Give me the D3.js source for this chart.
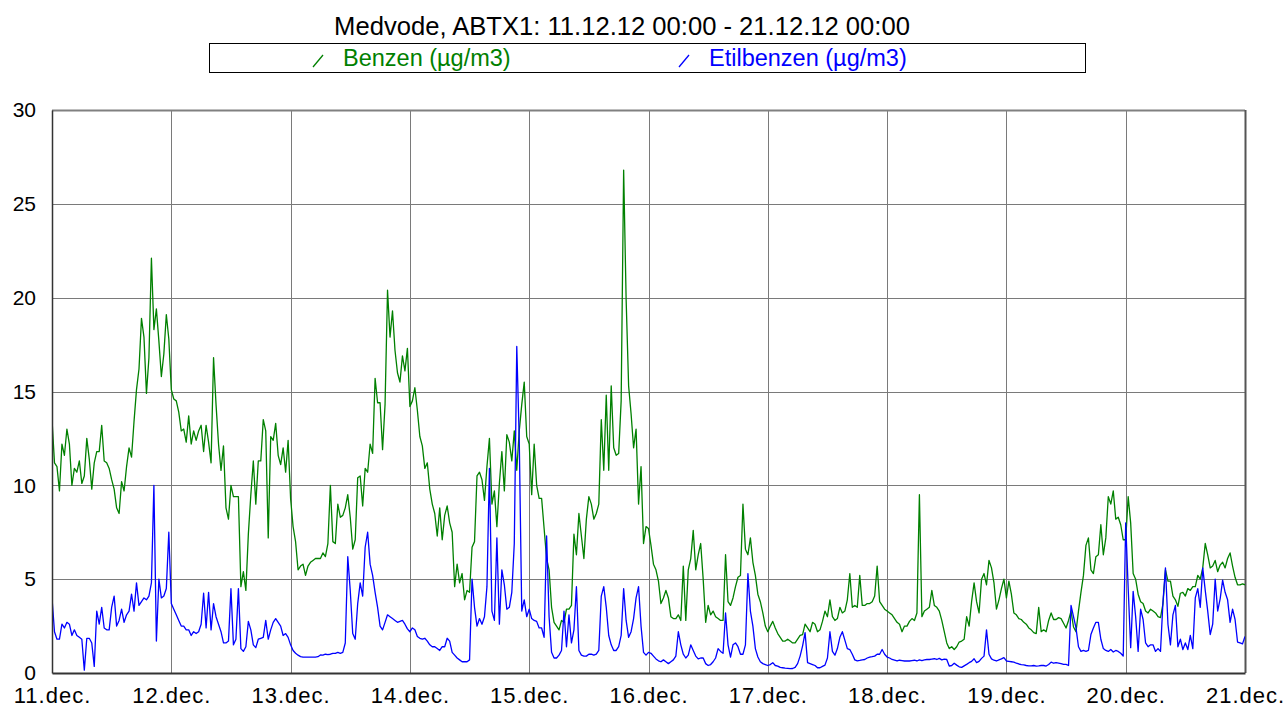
<!DOCTYPE html>
<html lang="en">
<head>
<meta charset="utf-8">
<title>Medvode, ABTX1</title>
<script src="https://cdn.jsdelivr.net/npm/d3@7"></script>
<style>
  body { margin: 0; background: #fff; }
  text { font-family: "Liberation Sans", Arial, sans-serif; }
</style>
</head>
<body>
<script>
// chart texts
var title = "Medvode, ABTX1: 11.12.12 00:00 - 21.12.12 00:00";
var seriesNames = ["Benzen (µg/m3)", "Etilbenzen (µg/m3)"];
var seriesColors = ["#008000", "#0000ff"];

// half-hourly readings starting 11.12.2012 00:00
var startTime = Date.UTC(2012, 11, 11, 0, 0);
var stepMinutes = 30;

var benzen = [
  13.5,11.2,11.0,9.7,12.2,11.6,13.0,12.2,10.0,10.9,10.7,11.3,10.1,10.5,12.5,11.4,9.8,11.2,11.8,11.8,13.2,11.3,11.2,10.9,10.3,9.8,8.8,8.5,10.2,9.7,11.0,12.0,11.5,13.4,15.1,16.2,18.9,17.9,14.9,16.8,22.1,18.3,19.4,17.7,15.8,17.0,19.1,17.8,
  15.1,14.6,14.5,13.9,12.9,13.0,12.3,13.7,12.2,12.9,12.4,12.9,13.2,11.8,13.2,12.3,11.2,16.8,14.3,12.2,10.8,12.1,8.8,8.2,10.0,9.4,9.4,9.4,4.6,5.4,4.4,7.4,9.5,11.3,9.0,11.3,11.3,13.5,12.9,7.2,12.6,12.4,13.3,11.6,11.1,12.0,10.7,12.4,
  9.3,7.8,7.0,5.5,5.7,5.8,5.2,5.7,5.9,6.0,6.1,6.1,6.1,6.4,6.2,6.9,10.0,7.0,6.9,9.0,8.3,8.4,8.8,9.5,8.3,6.6,7.1,10.4,10.5,8.9,10.9,10.7,12.2,11.7,15.7,14.4,14.4,11.9,14.3,20.4,17.9,19.3,17.2,16.0,15.5,16.9,16.1,17.3,
  14.2,14.5,15.2,14.0,12.6,12.1,10.9,11.2,9.8,9.0,8.5,7.3,8.8,7.1,8.4,8.9,8.0,7.5,4.6,5.8,4.8,5.3,3.9,4.4,4.3,6.7,7.0,10.5,10.7,10.3,9.2,11.0,12.5,9.0,9.7,7.8,10.1,11.8,9.7,12.7,12.3,11.3,12.9,10.8,12.9,14.3,15.5,12.6,
  12.2,9.5,12.2,10.0,9.3,9.3,7.7,6.1,5.5,3.5,2.7,2.5,2.3,2.8,2.7,3.4,3.4,3.6,7.4,6.3,8.5,7.3,6.1,8.2,9.4,9.0,8.2,8.5,9.0,13.5,10.8,14.8,10.8,15.3,12.0,11.6,11.7,14.5,26.8,19.9,15.3,13.8,12.0,13.0,9.0,11.0,6.9,7.8,
  7.7,6.8,5.8,5.5,4.9,3.7,4.0,4.4,4.0,3.0,2.9,2.9,3.1,2.8,5.7,2.8,5.5,6.1,7.6,5.5,6.3,6.9,5.0,2.7,3.6,3.1,3.3,3.0,2.9,2.8,2.8,6.3,3.8,3.6,4.0,4.6,5.1,5.2,9.0,6.6,6.3,7.2,5.9,5.2,4.2,3.8,3.2,2.5,
  2.2,2.5,2.75,2.4,2.1,1.9,1.7,1.7,1.8,1.7,1.6,1.6,1.8,2.0,2.05,2.6,2.4,2.2,2.7,2.6,2.2,2.3,2.75,3.3,3.0,3.9,3.0,2.8,2.9,3.5,3.2,3.3,3.9,5.3,3.5,3.6,3.5,5.2,3.6,3.6,3.7,3.7,3.8,4.1,5.7,3.8,3.6,3.4,
  3.3,3.2,3.1,2.9,2.7,2.6,2.2,2.5,2.5,2.75,2.9,2.8,3.2,9.5,3.0,3.3,3.4,3.5,4.4,3.6,3.5,3.3,2.8,2.2,1.6,1.3,1.4,1.25,1.4,1.65,1.7,1.8,3.0,2.5,3.8,4.8,3.8,3.2,5.0,5.3,4.7,6.0,5.6,4.8,3.4,3.9,4.5,5.0,
  4.0,4.9,4.2,3.2,3.1,2.9,2.85,2.7,2.6,2.4,2.3,2.15,2.1,3.5,2.2,2.3,2.2,2.8,3.2,2.85,2.85,2.95,2.9,2.65,2.4,2.8,3.3,2.45,2.2,3.3,4.3,5.2,6.8,7.2,5.5,5.3,6.2,6.3,7.9,6.3,7.2,9.4,9.0,9.7,8.2,8.3,7.9,7.1,
  7.1,9.4,8.0,5.3,5.0,4.2,3.8,3.7,3.3,3.2,3.4,3.3,3.2,3.0,2.95,3.7,5.5,4.9,4.9,4.1,3.9,3.55,4.25,4.3,4.1,4.5,4.4,4.6,4.6,5.2,5.0,5.6,6.9,6.3,5.6,5.7,6.0,5.4,5.75,5.9,5.6,6.1,6.4,5.7,5.1,4.7,4.7,4.75,4.7
];

var etilbenzen = [
  4.0,2.2,1.8,1.8,2.6,2.4,2.7,2.6,2.0,2.3,2.0,1.9,1.8,0.15,1.85,1.85,1.6,0.35,3.3,2.6,3.5,2.4,2.3,2.3,3.5,4.1,2.5,2.8,3.4,2.7,3.1,3.3,4.2,3.3,4.8,3.6,3.8,4.0,3.9,4.1,4.8,10.0,1.7,5.0,4.0,4.1,4.5,7.5,
  3.7,3.4,3.1,2.8,2.5,2.5,2.3,2.3,2.0,2.2,2.1,2.2,2.6,4.25,2.4,4.3,2.3,3.7,3.0,2.6,2.2,1.6,1.6,1.7,4.5,1.5,1.8,4.5,1.3,1.15,1.4,2.75,2.3,1.5,1.35,1.8,1.85,1.9,2.8,1.8,2.3,2.7,2.9,2.7,2.5,2.0,2.1,1.9,
  1.5,1.2,1.05,0.95,0.87,0.85,0.85,0.85,0.85,0.85,0.85,0.87,0.96,0.95,1.0,0.98,1.0,1.05,1.05,1.1,1.05,1.1,1.6,6.2,4.4,2.1,1.8,3.7,4.8,4.1,6.7,7.5,5.8,5.2,4.3,3.5,2.5,2.3,2.7,3.1,3.0,2.9,2.8,2.7,2.75,2.8,2.6,2.35,
  2.2,2.4,2.3,1.95,1.85,1.8,1.85,1.7,1.5,1.4,1.4,1.3,1.2,1.4,1.4,1.85,1.7,1.1,0.95,0.8,0.7,0.6,0.6,0.6,0.7,5.0,3.5,2.5,2.9,2.6,3.0,4.6,10.9,3.3,2.8,7.2,2.6,5.5,4.7,3.4,3.5,4.3,6.9,17.4,12.4,3.3,3.9,3.0,
  3.4,2.9,2.8,2.75,2.4,2.4,1.9,7.3,3.0,1.1,0.8,0.8,0.95,1.2,3.3,1.4,3.1,1.6,2.3,4.6,1.2,0.95,0.9,0.9,1.0,1.0,0.95,1.0,1.2,4.1,4.6,3.5,2.0,1.5,1.2,1.2,1.4,2.0,4.5,2.8,1.9,2.2,2.9,4.0,4.6,2.5,1.1,0.95,
  1.1,1.05,0.9,0.75,0.65,0.6,0.7,0.6,0.5,0.6,0.7,0.9,2.2,1.5,1.0,0.8,0.95,1.5,1.2,0.9,0.75,0.8,0.8,0.5,0.4,0.45,0.6,0.8,1.3,1.15,1.05,3.2,1.5,0.85,1.5,1.6,1.4,1.0,1.0,1.5,5.3,3.3,2.5,1.3,0.85,0.6,0.5,0.45,
  0.4,0.45,0.55,0.4,0.37,0.3,0.28,0.26,0.25,0.23,0.24,0.3,0.5,0.9,1.45,2.15,0.55,0.5,0.45,0.4,0.28,0.28,0.35,0.42,0.8,2.2,1.15,0.95,1.3,1.9,2.2,1.75,1.3,1.25,1.0,0.7,0.65,0.67,0.7,0.72,0.8,0.85,0.87,0.9,1.0,1.0,1.25,1.0,
  0.85,0.8,0.72,0.68,0.64,0.68,0.66,0.64,0.64,0.64,0.66,0.68,0.64,0.7,0.66,0.7,0.72,0.72,0.74,0.76,0.72,0.78,0.7,0.74,0.72,0.37,0.4,0.52,0.42,0.33,0.3,0.38,0.46,0.55,0.62,0.76,0.55,0.62,0.78,0.9,2.3,1.0,0.75,0.68,0.64,0.7,0.75,0.82,
  0.64,0.62,0.6,0.58,0.52,0.48,0.45,0.43,0.4,0.38,0.38,0.4,0.37,0.38,0.4,0.4,0.37,0.45,0.58,0.52,0.55,0.53,0.5,0.46,0.46,0.4,3.6,3.0,2.4,1.4,1.15,1.2,1.15,1.2,2.05,2.4,2.7,2.7,1.8,1.3,1.2,1.15,1.25,1.12,1.2,1.15,1.05,0.9,
  8.0,4.5,1.35,4.35,3.0,1.15,3.4,2.85,1.6,1.4,1.5,1.5,1.15,1.3,1.15,3.8,5.6,2.6,1.5,3.1,3.6,1.4,1.8,1.25,1.6,1.25,2.0,1.3,4.0,4.5,3.5,5.6,4.4,3.3,2.05,2.6,5.0,3.3,3.95,4.95,4.3,3.9,2.7,3.4,2.85,1.65,1.6,1.55,1.95
];

// axis ticks
var yTicks = [0, 5, 10, 15, 20, 25, 30];
var xTickLabels = ["11.dec.", "12.dec.", "13.dec.", "14.dec.", "15.dec.", "16.dec.",
                   "17.dec.", "18.dec.", "19.dec.", "20.dec.", "21.dec."];

var width = 1286,
    height = 711,
    margin = {top: 110, right: 41, bottom: 38, left: 52};

var svg = d3.select("body").append("svg")
    .attr("width", width)
    .attr("height", height);

// 11.dec. .. 21.dec. inclusive
var days = d3.utcDay.range(new Date(startTime), d3.utcDay.offset(new Date(startTime), xTickLabels.length));

var x = d3.scaleUtc()
    .domain([days[0], days[days.length - 1]])
    .range([margin.left, width - margin.right]);

var y = d3.scaleLinear()
    .domain([0, 30])
    .range([height - margin.bottom, margin.top]);

function timeAt(i) {
  return new Date(startTime + i * stepMinutes * 60000);
}

// title
svg.append("text")
    .attr("x", 622)
    .attr("y", 35)
    .attr("text-anchor", "middle")
    .style("font-size", "25.6px")
    .style("fill", "#000")
    .text(title);

// legend
var legend = svg.append("g").attr("class", "legend");
legend.append("rect")
    .attr("x", 209.5).attr("y", 43.5)
    .attr("width", 876).attr("height", 29)
    .style("fill", "#fff").style("stroke", "#000");

var legendX = [313, 679];
seriesNames.forEach(function(name, i) {
  var g = legend.append("g").attr("transform", "translate(" + legendX[i] + ",0)");
  g.append("line")
      .attr("x1", 0).attr("y1", 67).attr("x2", 10).attr("y2", 55)
      .style("stroke", seriesColors[i]).style("stroke-width", 1.3);
  g.append("text")
      .attr("x", 30).attr("y", 66)
      .style("font-size", "23.5px")
      .style("fill", seriesColors[i])
      .text(name);
});

// grid
var grid = svg.append("g").attr("class", "grid");
grid.selectAll("line.h")
    .data(yTicks.filter(function(d) { return d > 0 && d < 30; }))
    .enter().append("line")
    .attr("x1", margin.left).attr("x2", width - margin.right)
    .attr("y1", function(d) { return Math.round(y(d)) + 0.5; })
    .attr("y2", function(d) { return Math.round(y(d)) + 0.5; })
    .style("stroke", "#7a7a7a").style("stroke-width", 1);

grid.selectAll("line.v")
    .data(days.slice(1, days.length - 1))
    .enter().append("line")
    .attr("x1", function(d) { return Math.round(x(d)) + 0.5; })
    .attr("x2", function(d) { return Math.round(x(d)) + 0.5; })
    .attr("y1", margin.top).attr("y2", height - margin.bottom)
    .style("stroke", "#7a7a7a").style("stroke-width", 1);

// frame: top and right in grey
svg.append("line")
    .attr("x1", margin.left).attr("x2", width - margin.right)
    .attr("y1", margin.top + 0.5).attr("y2", margin.top + 0.5)
    .style("stroke", "#808080").style("stroke-width", 2);
svg.append("line")
    .attr("x1", width - margin.right + 0.5).attr("x2", width - margin.right + 0.5)
    .attr("y1", margin.top).attr("y2", height - margin.bottom)
    .style("stroke", "#555").style("stroke-width", 2);

// series lines
svg.append("clipPath").attr("id", "plot-clip")
  .append("rect")
    .attr("x", margin.left).attr("y", margin.top)
    .attr("width", width - margin.left - margin.right)
    .attr("height", height - margin.top - margin.bottom);

var line = d3.line()
    .x(function(d, i) { return x(timeAt(i)); })
    .y(function(d) { return y(d); });

var series = [benzen, etilbenzen];
svg.append("g")
    .attr("clip-path", "url(#plot-clip)")
  .selectAll("path")
    .data(series)
    .enter().append("path")
    .attr("d", line)
    .style("fill", "none")
    .style("stroke", function(d, i) { return seriesColors[i]; })
    .style("stroke-width", 1.3)
    .style("stroke-linejoin", "round");

// axes
var yAxis = d3.axisLeft(y)
    .tickValues(yTicks)
    .tickSize(0)
    .tickPadding(16);

svg.append("g")
    .attr("class", "y-axis")
    .attr("transform", "translate(" + margin.left + ",0)")
    .call(yAxis)
    .call(function(g) {
      g.select(".domain").style("stroke", "#333").style("stroke-width", 1.5);
      g.selectAll("text").style("font-size", "21px").style("fill", "#000")
          .style("font-family", "'Liberation Sans', Arial, sans-serif");
    });

var xAxis = d3.axisBottom(x)
    .tickValues(days)
    .tickSize(0)
    .tickPadding(14)
    .tickFormat(function(d, i) { return xTickLabels[i]; });

svg.append("g")
    .attr("class", "x-axis")
    .attr("transform", "translate(0," + (height - margin.bottom) + ")")
    .call(xAxis)
    .call(function(g) {
      g.select(".domain").style("stroke", "#333").style("stroke-width", 2);
      g.selectAll("text").style("font-size", "22px").style("fill", "#000")
          .style("letter-spacing", "1px")
          .style("font-family", "'Liberation Sans', Arial, sans-serif");
    });
</script>
</body>
</html>
